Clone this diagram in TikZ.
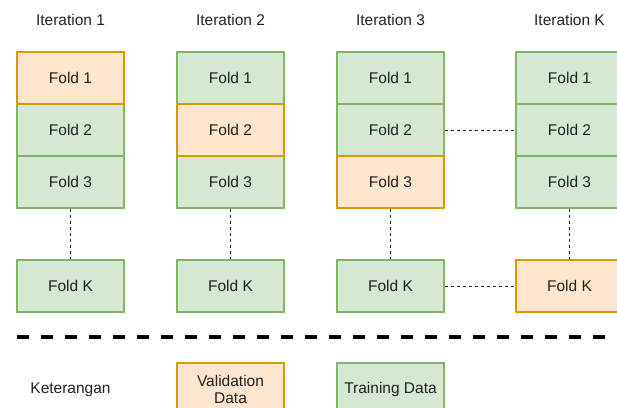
\documentclass[tikz,border=0pt]{standalone}
\usepackage{fontspec}
\setmainfont{Liberation Sans}
\definecolor{gfill}{HTML}{D5E8D4}
\definecolor{gdraw}{HTML}{82B366}
\definecolor{ofill}{HTML}{FFE6CC}
\definecolor{odraw}{HTML}{D79B00}
\definecolor{txt}{HTML}{222222}
\begin{document}
\begin{tikzpicture}[x=1pt,y=-1pt,
  every node/.style={font=\fontsize{15.5}{18}\selectfont, text=txt},
  fold/.style={draw=gdraw, fill=gfill, line width=1.1pt, minimum width=107pt, minimum height=52pt, inner sep=0pt, align=center},
  val/.style={fold, draw=odraw, fill=ofill},
  dotln/.style={draw=black!85, line width=0.9pt, dash pattern=on 3pt off 3pt},
  sep/.style={draw=black, line width=4pt, dash pattern=on 12pt off 12pt}
]
\useasboundingbox (0,0) rectangle (617,407);
% column centers
\foreach \i/\cx/\lab in {1/70.5/1, 2/230.5/2, 3/390.5/3, 4/569.5/K}{
  \node (it\i) at (\cx,20) {Iteration \lab};
}
% Column 1
\node[val]  (a1) at (70.5,78) {Fold 1};
\node[fold] (a2) at (70.5,130) {Fold 2};
\node[fold] (a3) at (70.5,182) {Fold 3};
\node[fold] (ak) at (70.5,286) {Fold K};
% Column 2
\node[fold] (b1) at (230.5,78) {Fold 1};
\node[val]  (b2) at (230.5,130) {Fold 2};
\node[fold] (b3) at (230.5,182) {Fold 3};
\node[fold] (bk) at (230.5,286) {Fold K};
% Column 3
\node[fold] (c1) at (390.5,78) {Fold 1};
\node[fold] (c2) at (390.5,130) {Fold 2};
\node[val]  (c3) at (390.5,182) {Fold 3};
\node[fold] (ck) at (390.5,286) {Fold K};
% Column 4
\node[fold] (d1) at (569.5,78) {Fold 1};
\node[fold] (d2) at (569.5,130) {Fold 2};
\node[fold] (d3) at (569.5,182) {Fold 3};
\node[val]  (dk) at (569.5,286) {Fold K};
% redraw orange boxes on top so their borders show
\node[val] at (a1) {Fold 1};
\node[val] at (b2) {Fold 2};
\node[val] at (c3) {Fold 3};
% dotted connectors
\draw[dotln] (a3.south) -- (ak.north);
\draw[dotln] (b3.south) -- (bk.north);
\draw[dotln] (c3.south) -- (ck.north);
\draw[dotln] (d3.south) -- (dk.north);
\draw[dotln] (c2.east) -- (d2.west);
\draw[dotln] (ck.east) -- (dk.west);
% separator
\coordinate (s1) at (17,337);
\coordinate (s2) at (625,337);
\draw[sep] (s1) -- (s2);
% legend
\node (ket) at (70.5,390) {Keterangan};
\node[val]  (lv) at (230.5,389) {Validation\\[-1pt]Data};
\node[fold] (lt) at (390.5,389) {Training Data};
\end{tikzpicture}
\end{document}
